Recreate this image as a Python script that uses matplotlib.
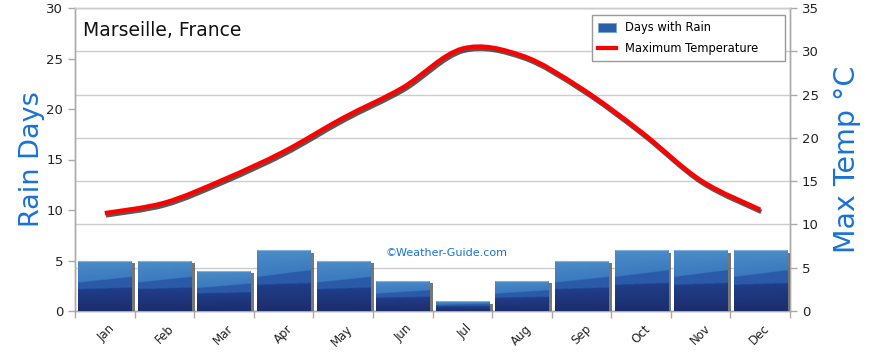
import numpy as np
import matplotlib
matplotlib.use("Agg")
import matplotlib.pyplot as plt
from matplotlib.patches import PathPatch, Patch
from matplotlib.lines import Line2D
from matplotlib.path import Path
import matplotlib.patheffects as pe
import matplotlib.transforms as mtransforms

months = ["Jan", "Feb", "Mar", "Apr", "May", "Jun", "Jul", "Aug", "Sep", "Oct", "Nov", "Dec"]
rain_days = [5, 5, 4, 6, 5, 3, 1, 3, 5, 6, 6, 6]
max_temp = [11.3, 12.5, 15.2, 18.4, 22.3, 25.8, 30.3, 29.5, 25.7, 20.7, 15.1, 11.7]
rain_ticks = [0, 5, 10, 15, 20, 25, 30]
temp_ticks = [0, 5, 10, 15, 20, 25, 30, 35]

plt.rcParams['font.family'] = ['DejaVu Sans']
BLUE_LABEL = '#1a72d6'
GRID = '#cccccc'
SPINE = '#aaaaaa'

fig = plt.figure(figsize=(8.7, 3.52), dpi=100)
ax1 = fig.add_axes([75/870, 1-311/352, 715/870, 303/352])
ax2 = ax1.twinx()
ax1.set_zorder(2)
ax2.set_zorder(1)
ax1.patch.set_visible(False)

x = np.arange(len(months))


def bar_gradient(nv=160, nu=60):
    u = np.linspace(0, 1, nu)[None, :]
    v = np.linspace(0, 1, nv)[:, None]
    dark_lo = np.array([0x1b, 0x2d, 0x6c]) / 255
    dark_hi = np.array([0x20, 0x3e, 0x8a]) / 255
    mid = np.array([0x2a, 0x5a, 0xa8]) / 255
    light_lo = np.array([0x3a, 0x7a, 0xbe]) / 255
    light_hi = np.array([0x4c, 0x8c, 0xc7]) / 255
    b1 = 0.43 + 0.03 * u
    b2 = 0.56 + 0.11 * u
    t_dark = np.clip(v / b1, 0, 1)
    t_light = np.clip((v - b2) / (1 - b2 + 1e-9), 0, 1)
    img = np.zeros((nv, nu, 3))
    for c in range(3):
        dk = dark_lo[c] + (dark_hi[c] - dark_lo[c]) * t_dark
        lt = light_lo[c] + (light_hi[c] - light_lo[c]) * t_light
        img[..., c] = np.where(v < b1, dk, np.where(v < b2, mid[c], lt))
    return img


grad = bar_gradient()
width = 0.89
bars = ax1.bar(x, rain_days, width=width, color='#2d5fa6', edgecolor='none', zorder=3,
               path_effects=[pe.SimplePatchShadow(offset=(2.8, -2.0), shadow_rgbFace='#555555', alpha=0.8),
                             pe.Normal()])
for b in bars:
    x0, y0 = b.get_x(), b.get_y()
    w, h = b.get_width(), b.get_height()
    im = ax1.imshow(grad, extent=[x0, x0 + w, y0, y0 + h], origin='lower',
                    aspect='auto', zorder=4, interpolation='bilinear')
    im.set_clip_path(b)
    ax1.plot([x0, x0 + w], [h, h], color='#7fb2de', lw=0.8, zorder=5, solid_capstyle='butt')

ax1.set_xlim(-0.5, 11.5)
ax1.set_ylim(0, 30)
ax2.set_ylim(0, 35)

# smooth temperature curve (Catmull-Rom as cubic Bezier in data coords)
pts = np.column_stack([x, max_temp]).astype(float)
verts = [tuple(pts[0])]
codes = [Path.MOVETO]
n = len(pts)
for i in range(n - 1):
    p0 = pts[i - 1] if i > 0 else pts[i]
    p1 = pts[i]
    p2 = pts[i + 1]
    p3 = pts[i + 2] if i + 2 < n else pts[i + 1]
    c1 = p1 + (p2 - p0) / 6.0
    c2 = p2 - (p3 - p1) / 6.0
    verts += [tuple(c1), tuple(c2), tuple(p2)]
    codes += [Path.CURVE4] * 3
curve = PathPatch(Path(verts, codes), fill=False, edgecolor='#ff0000', lw=3.2,
                  transform=ax2.transData, zorder=6, capstyle='butt',
                  path_effects=[pe.SimpleLineShadow(offset=(0.8, -1.6), shadow_color='#222222', alpha=0.75),
                                pe.Normal()])
ax1.add_patch(curve)

for ax in (ax1, ax2):
    for s in ax.spines.values():
        s.set_color(SPINE)
        s.set_linewidth(1.0)
ax2.spines['top'].set_color(GRID)
ax1.spines['top'].set_color(GRID)

ax1.set_yticks(rain_ticks)
ax2.set_yticks(temp_ticks)
ax2.grid(axis='y', color=GRID, lw=1.0)
ax2.set_axisbelow(True)
ax1.tick_params(axis='y', colors=SPINE, labelcolor='#222222', labelsize=9.5, length=5, width=1)
ax2.tick_params(axis='y', colors=SPINE, labelcolor='#222222', labelsize=9.5, length=5, width=1)

ax1.set_xticks(np.arange(-0.5, 12, 1))
ax1.set_xticklabels([])
ax1.set_xticks(x, minor=True)
ax1.set_xticklabels(months, minor=True, rotation=45, ha='right', va='top',
                    rotation_mode='anchor', fontsize=8.5, color='#222222')
ax1.tick_params(axis='x', which='major', colors=SPINE, length=5, width=1)
ax1.tick_params(axis='x', which='minor', length=0, pad=8)
for lab in ax1.get_xticklabels(minor=True):
    lab.set_transform(lab.get_transform() + mtransforms.ScaledTranslation(3/100, 0, fig.dpi_scale_trans))

ax1.set_ylabel('Rain Days', color=BLUE_LABEL, fontsize=19.5, labelpad=1)
ax2.set_ylabel('Max Temp °C', color=BLUE_LABEL, fontsize=20.5, labelpad=10)

ax1.text(0.011, 0.927, 'Marseille, France', transform=ax1.transAxes, fontsize=13.5,
         color='#111111', ha='left', va='center', zorder=10)
ax1.text(0.52, 0.19, '©Weather-Guide.com', transform=ax1.transAxes, fontsize=8,
         color=BLUE_LABEL, ha='center', va='center', zorder=10)

handles = [Patch(facecolor='#2d5fa6', edgecolor='#6fa8d8', lw=0.6),
           Line2D([0], [0], color='#ff0000', lw=3)]
ax_w = 715
leg = ax1.legend(handles, ['Days with Rain', 'Maximum Temperature'], loc='upper right',
                 bbox_to_anchor=((592-75)/ax_w, 0.0, (785-592)/ax_w, 0.977), mode='expand',
                 borderaxespad=0, fontsize=8.3,
                 fancybox=False, framealpha=1, edgecolor='#999999',
                 handlelength=1.5, handleheight=0.8, borderpad=0.55, labelspacing=0.65,
                 handletextpad=0.8)
leg.get_frame().set_linewidth(1.0)
leg.set_zorder(20)

fig.savefig('out.png', dpi=100)
